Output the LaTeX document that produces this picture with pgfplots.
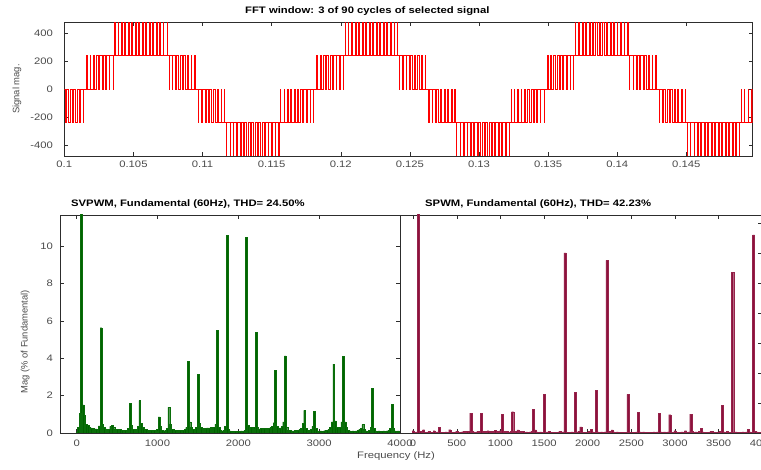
\documentclass[border=0pt]{standalone}
\usepackage{pgfplots}
\pgfplotsset{compat=1.18}
\usepackage{pgfplotstable}
\usepackage{fontspec}
\setmainfont{Liberation Sans}[FakeStretch=1.2]
\newfontfamily\rotfont{Liberation Sans}

\definecolor{tickgray}{RGB}{75,75,75}
\definecolor{axgray}{RGB}{45,45,45}
\definecolor{barG}{RGB}{0,100,0}
\definecolor{barGe}{RGB}{10,110,10}
\definecolor{barR}{RGB}{140,18,60}
\definecolor{barRe}{RGB}{150,35,75}

\pgfplotsset{
  mystyle/.style={
    scale only axis,
    anchor=south west,
    axis line style={axgray, line width=0.5pt},
    tick style={axgray, line width=0.5pt},
    tick align=inside,
    major tick length=4pt,
    xtick pos=both, ytick pos=both,
    ticklabel style={font=\fontsize{9.4}{11}\selectfont, text=tickgray},
  }
}

\pgfplotstableread[row sep=\\]{
f m\\
0 0.02\\ 20 0.3\\ 40 1.05\\ 60 100\\ 80 1.5\\ 100 0.95\\ 120 0.45\\ 140 0.4\\ 160 0.3\\ 180 0.28\\
200 0.25\\ 220 0.22\\ 240 0.22\\ 260 0.2\\ 280 0.38\\ 300 5.63\\ 320 0.48\\ 340 0.3\\ 360 0.22\\ 380 0.15\\
400 0.2\\ 420 0.35\\ 440 0.42\\ 460 0.3\\ 480 0.2\\ 500 0.18\\ 520 0.15\\ 540 0.18\\ 560 0.15\\ 580 0.12\\
600 0.15\\ 620 0.15\\ 640 0.25\\ 660 1.57\\ 680 0.4\\ 700 0.2\\ 720 0.18\\ 740 0.2\\ 760 0.35\\ 780 1.73\\
800 0.53\\ 820 0.3\\ 840 0.2\\ 860 0.18\\ 880 0.15\\ 900 0.15\\ 920 0.15\\ 940 0.12\\ 960 0.15\\ 980 0.12\\
1000 0.2\\ 1020 0.86\\ 1040 0.35\\ 1060 0.15\\ 1080 0.12\\ 1100 0.15\\ 1120 0.25\\ 1140 1.37\\ 1160 0.48\\ 1180 0.2\\
1200 0.18\\ 1220 0.15\\ 1240 0.15\\ 1260 0.12\\ 1280 0.15\\ 1300 0.12\\ 1320 0.15\\ 1340 0.2\\ 1360 0.3\\ 1380 3.83\\
1400 0.6\\ 1420 0.3\\ 1440 0.2\\ 1460 0.18\\ 1480 0.3\\ 1500 3.14\\ 1520 0.5\\ 1540 0.3\\ 1560 0.25\\ 1580 0.2\\
1600 0.25\\ 1620 0.28\\ 1640 0.25\\ 1660 0.3\\ 1680 0.25\\ 1700 0.3\\ 1720 0.48\\ 1740 5.49\\ 1760 0.3\\ 1780 0.15\\
1800 0.12\\ 1820 0.15\\ 1840 0.35\\ 1860 10.57\\ 1880 0.2\\ 1900 0.12\\ 1920 0.1\\ 1940 0.1\\ 1960 0.08\\ 1980 0.1\\
2000 0.1\\ 2020 0.1\\ 2040 0.12\\ 2060 0.1\\ 2080 0.15\\ 2100 10.46\\ 2120 0.4\\ 2140 0.25\\ 2160 0.3\\ 2180 0.22\\
2200 0.3\\ 2220 5.40\\ 2240 0.3\\ 2260 0.22\\ 2280 0.25\\ 2300 0.2\\ 2320 0.25\\ 2340 0.22\\ 2360 0.25\\ 2380 0.25\\
2400 0.3\\ 2420 0.35\\ 2440 0.55\\ 2460 3.35\\ 2480 0.35\\ 2500 0.25\\ 2520 0.28\\ 2540 0.35\\ 2560 0.6\\ 2580 4.12\\
2600 0.3\\ 2620 0.15\\ 2640 0.15\\ 2660 0.12\\ 2680 0.12\\ 2700 0.15\\ 2720 0.12\\ 2740 0.15\\ 2760 0.2\\ 2780 0.25\\
2800 0.5\\ 2820 1.21\\ 2840 0.25\\ 2860 0.15\\ 2880 0.12\\ 2900 0.2\\ 2920 0.35\\ 2940 1.16\\ 2960 0.25\\ 2980 0.12\\
3000 0.1\\ 3020 0.12\\ 3040 0.1\\ 3060 0.12\\ 3080 0.15\\ 3100 0.15\\ 3120 0.2\\ 3140 0.3\\ 3160 0.6\\ 3180 3.69\\
3200 0.65\\ 3220 0.3\\ 3240 0.25\\ 3260 0.3\\ 3280 0.6\\ 3300 4.10\\ 3320 0.6\\ 3340 0.3\\ 3360 0.15\\ 3380 0.12\\
3400 0.1\\ 3420 0.12\\ 3440 0.1\\ 3460 0.12\\ 3480 0.15\\ 3500 0.2\\ 3520 0.25\\ 3540 0.45\\ 3560 0.2\\ 3580 0.12\\
3600 0.1\\ 3620 0.15\\ 3640 0.3\\ 3660 2.39\\ 3680 0.25\\ 3700 0.12\\ 3720 0.1\\ 3740 0.12\\ 3760 0.1\\ 3780 0.1\\
3800 0.12\\ 3820 0.1\\ 3840 0.12\\ 3860 0.15\\ 3880 0.25\\ 3900 1.53\\ 3920 0.25\\ 3940 0.12\\ 3960 0.1\\ 3980 0.12\\
}\svpwm

\pgfplotstableread[row sep=\\]{
f m\\
0 0.15\\ 20 0.05\\ 40 0.08\\ 60 100\\ 80 0.1\\ 100 0.06\\ 120 0.22\\ 140 0.05\\ 160 0.06\\ 180 0.1\\
200 0.05\\ 220 0.06\\ 240 0.15\\ 260 0.06\\ 280 0.08\\ 300 0.38\\ 320 0.06\\ 340 0.05\\ 360 0.06\\ 380 0.08\\
400 0.06\\ 420 0.22\\ 440 0.06\\ 460 0.05\\ 480 0.06\\ 500 0.12\\ 520 0.05\\ 540 0.06\\ 560 0.08\\ 580 0.1\\
600 0.08\\ 620 0.1\\ 640 0.12\\ 660 1.33\\ 680 0.1\\ 700 0.08\\ 720 0.06\\ 740 0.1\\ 760 0.12\\ 780 1.33\\
800 0.1\\ 820 0.08\\ 840 0.12\\ 860 0.15\\ 880 0.1\\ 900 0.08\\ 920 0.12\\ 940 0.18\\ 960 0.12\\ 980 0.1\\
1000 0.15\\ 1020 1.25\\ 1040 0.1\\ 1060 0.08\\ 1080 0.1\\ 1100 0.06\\ 1120 0.12\\ 1140 1.42\\ 1160 0.1\\ 1180 0.12\\
1200 0.2\\ 1220 0.1\\ 1240 0.08\\ 1260 0.12\\ 1280 0.06\\ 1300 0.08\\ 1320 0.06\\ 1340 0.08\\ 1360 0.1\\ 1380 1.58\\
1400 0.2\\ 1420 0.08\\ 1440 0.06\\ 1460 0.08\\ 1480 0.06\\ 1500 2.56\\ 1520 0.06\\ 1540 0.08\\ 1560 0.1\\ 1580 0.06\\
1600 0.05\\ 1620 0.06\\ 1640 0.05\\ 1660 0.06\\ 1680 0.1\\ 1700 0.06\\ 1720 0.08\\ 1740 12.0\\ 1760 0.06\\ 1780 0.05\\
1800 0.06\\ 1820 0.08\\ 1840 0.06\\ 1860 2.7\\ 1880 0.08\\ 1900 0.1\\ 1920 0.4\\ 1940 0.06\\ 1960 0.05\\ 1980 0.06\\
2000 0.05\\ 2020 0.1\\ 2040 0.25\\ 2060 0.08\\ 2080 0.06\\ 2100 2.83\\ 2120 0.08\\ 2140 0.06\\ 2160 0.08\\ 2180 0.06\\
2200 0.08\\ 2220 11.5\\ 2240 0.06\\ 2260 0.1\\ 2280 0.2\\ 2300 0.08\\ 2320 0.06\\ 2340 0.08\\ 2360 0.06\\ 2380 0.05\\
2400 0.06\\ 2420 0.05\\ 2440 0.06\\ 2460 2.58\\ 2480 0.06\\ 2500 0.05\\ 2520 0.06\\ 2540 0.05\\ 2560 0.08\\ 2580 1.38\\
2600 0.08\\ 2620 0.06\\ 2640 0.08\\ 2660 0.06\\ 2680 0.05\\ 2700 0.06\\ 2720 0.05\\ 2740 0.06\\ 2760 0.08\\ 2780 0.06\\
2800 0.08\\ 2820 1.29\\ 2840 0.08\\ 2860 0.06\\ 2880 0.08\\ 2900 0.06\\ 2920 0.08\\ 2940 1.22\\ 2960 0.06\\ 2980 0.05\\
3000 0.15\\ 3020 0.06\\ 3040 0.05\\ 3060 0.06\\ 3080 0.08\\ 3100 0.06\\ 3120 0.15\\ 3140 0.06\\ 3160 0.08\\ 3180 1.25\\
3200 0.1\\ 3220 0.06\\ 3240 0.08\\ 3260 0.06\\ 3280 0.1\\ 3300 0.3\\ 3320 0.08\\ 3340 0.06\\ 3360 0.05\\ 3380 0.06\\
3400 0.08\\ 3420 0.12\\ 3440 0.06\\ 3460 0.05\\ 3480 0.06\\ 3500 0.08\\ 3520 0.1\\ 3540 1.83\\ 3560 0.08\\ 3580 0.06\\
3600 0.1\\ 3620 0.06\\ 3640 0.05\\ 3660 10.7\\ 3680 0.06\\ 3700 0.08\\ 3720 0.06\\ 3740 0.05\\ 3760 0.06\\ 3780 0.08\\
3800 0.06\\ 3820 0.08\\ 3840 0.25\\ 3860 0.08\\ 3880 0.06\\ 3900 13.2\\ 3920 0.1\\ 3940 0.08\\ 3960 0.06\\ 3980 0.05\\
}\spwm

\begin{document}
\begin{tikzpicture}
\useasboundingbox (0,0) rectangle (761pt,470pt);

% ---------------- top: time signal ----------------
\begin{axis}[mystyle,
  at={(64.3pt,314pt)}, width=688.4pt, height=133.5pt,
  xmin=0.1, xmax=0.1498, ymin=-480, ymax=480,
  xtick={0.1,0.105,0.11,0.115,0.12,0.125,0.13,0.135,0.14,0.145},
  xticklabels={0.1,0.105,0.11,0.115,0.12,0.125,0.13,0.135,0.14,0.145},
  ytick={-400,-200,0,200,400},
  yticklabels={-400,-200,0,200,400},
  xticklabel style={yshift=-1.8pt},
  yticklabel style={xshift=-7.9pt},
]
\addplot[red, line width=0.95pt, const plot] coordinates {
(0.1,0)
(0.100056,-240)(0.100192,0)(0.100308,-240)(0.100444,0)(0.100592,-240)(0.100666,0)(0.100844,-240)(0.100918,0)
(0.101130,-240)(0.101138,0)(0.101382,-240)(0.101390,0)
(0.101611,240)(0.101667,0)(0.101863,240)(0.101919,0)(0.102084,240)(0.102204,0)(0.102336,240)(0.102456,0)
(0.102559,240)(0.102739,0)(0.102811,240)(0.102991,0)(0.103038,240)(0.103270,0)(0.103290,240)(0.103522,0)(0.103533,240)
(0.103647,480)(0.103671,240)(0.103899,480)(0.103923,240)(0.104135,480)(0.104193,240)(0.104387,480)(0.104445,240)
(0.104628,480)(0.104710,240)(0.104880,480)(0.104962,240)(0.105128,480)(0.105220,240)(0.105380,480)(0.105472,240)
(0.105633,480)(0.105725,240)(0.105885,480)(0.105977,240)(0.106145,480)(0.106223,240)(0.106397,480)(0.106475,240)
(0.106663,480)(0.106715,240)(0.106915,480)(0.106967,240)(0.107187,480)(0.107201,240)(0.107439,480)(0.107453,240)
(0.107573,0)
(0.107589,240)(0.107809,0)(0.107841,240)(0.108061,0)(0.108121,240)(0.108287,0)(0.108373,240)(0.108539,0)
(0.108656,240)(0.108762,0)(0.108908,240)(0.109014,0)(0.109193,240)(0.109235,0)(0.109445,240)(0.109487,0)
(0.109707,-240)(0.109731,0)(0.109959,-240)(0.109983,0)(0.110180,-240)(0.110269,0)(0.110432,-240)(0.110521,0)
(0.110654,-240)(0.110804,0)(0.110906,-240)(0.111056,0)(0.111131,-240)(0.111337,0)(0.111383,-240)(0.111589,0)(0.111613,-240)
(0.111738,-480)(0.111740,-240)(0.111990,-480)(0.111992,-240)(0.112223,-480)(0.112265,-240)(0.112475,-480)(0.112517,-240)
(0.112713,-480)(0.112785,-240)(0.112965,-480)(0.113037,-240)(0.113210,-480)(0.113298,-240)(0.113462,-480)(0.113550,-240)
(0.113712,-480)(0.113806,-240)(0.113964,-480)(0.114058,-240)(0.114221,-480)(0.114307,-240)(0.114473,-480)(0.114559,-240)
(0.114736,-480)(0.114802,-240)(0.114988,-480)(0.115054,-240)(0.115257,-480)(0.115291,-240)(0.115509,-480)(0.115543,-240)
(0.115653,0)
(0.115656,-240)(0.115901,0)(0.115908,-240)(0.116154,0)(0.116187,-240)(0.116381,0)(0.116439,-240)(0.116633,0)
(0.116721,-240)(0.116857,0)(0.116973,-240)(0.117109,0)(0.117257,-240)(0.117331,0)(0.117509,-240)(0.117583,0)
(0.117795,-240)(0.117803,0)(0.118047,-240)(0.118055,0)
(0.118276,240)(0.118332,0)(0.118528,240)(0.118584,0)(0.118749,240)(0.118869,0)(0.119001,240)(0.119121,0)
(0.119224,240)(0.119404,0)(0.119476,240)(0.119656,0)(0.119703,240)(0.119935,0)(0.119955,240)(0.120187,0)(0.120198,240)
(0.120312,480)(0.120336,240)(0.120564,480)(0.120588,240)(0.120800,480)(0.120858,240)(0.121052,480)(0.121110,240)
(0.121293,480)(0.121375,240)(0.121545,480)(0.121627,240)(0.121793,480)(0.121885,240)(0.122045,480)(0.122137,240)
(0.122298,480)(0.122390,240)(0.122550,480)(0.122642,240)(0.122810,480)(0.122888,240)(0.123062,480)(0.123140,240)
(0.123328,480)(0.123380,240)(0.123580,480)(0.123632,240)(0.123852,480)(0.123866,240)(0.124104,480)(0.124118,240)
(0.124238,0)
(0.124254,240)(0.124474,0)(0.124506,240)(0.124726,0)(0.124786,240)(0.124952,0)(0.125038,240)(0.125204,0)
(0.125321,240)(0.125427,0)(0.125573,240)(0.125679,0)(0.125858,240)(0.125900,0)(0.126110,240)(0.126152,0)
(0.126372,-240)(0.126396,0)(0.126624,-240)(0.126648,0)(0.126845,-240)(0.126934,0)(0.127097,-240)(0.127186,0)
(0.127319,-240)(0.127469,0)(0.127571,-240)(0.127721,0)(0.127796,-240)(0.128002,0)(0.128048,-240)(0.128254,0)(0.128278,-240)
(0.128403,-480)(0.128405,-240)(0.128655,-480)(0.128657,-240)(0.128888,-480)(0.128930,-240)(0.129140,-480)(0.129182,-240)
(0.129378,-480)(0.129450,-240)(0.129630,-480)(0.129702,-240)(0.129875,-480)(0.129963,-240)(0.130127,-480)(0.130215,-240)
(0.130377,-480)(0.130471,-240)(0.130629,-480)(0.130723,-240)(0.130886,-480)(0.130972,-240)(0.131138,-480)(0.131224,-240)
(0.131401,-480)(0.131467,-240)(0.131653,-480)(0.131719,-240)(0.131922,-480)(0.131956,-240)(0.132174,-480)(0.132208,-240)
(0.132318,0)
(0.132321,-240)(0.132566,0)(0.132573,-240)(0.132819,0)(0.132852,-240)(0.133046,0)(0.133104,-240)(0.133298,0)
(0.133386,-240)(0.133522,0)(0.133638,-240)(0.133774,0)(0.133922,-240)(0.133996,0)(0.134174,-240)(0.134248,0)
(0.134460,-240)(0.134468,0)(0.134712,-240)(0.134720,0)
(0.134941,240)(0.134997,0)(0.135193,240)(0.135249,0)(0.135414,240)(0.135534,0)(0.135666,240)(0.135786,0)
(0.135889,240)(0.136069,0)(0.136141,240)(0.136321,0)(0.136368,240)(0.136600,0)(0.136620,240)(0.136852,0)(0.136863,240)
(0.136977,480)(0.137001,240)(0.137229,480)(0.137253,240)(0.137465,480)(0.137523,240)(0.137717,480)(0.137775,240)
(0.137958,480)(0.138040,240)(0.138210,480)(0.138292,240)(0.138458,480)(0.138550,240)(0.138710,480)(0.138802,240)
(0.138963,480)(0.139055,240)(0.139215,480)(0.139307,240)(0.139475,480)(0.139553,240)(0.139727,480)(0.139805,240)
(0.139993,480)(0.140045,240)(0.140245,480)(0.140297,240)(0.140517,480)(0.140531,240)(0.140769,480)(0.140783,240)
(0.140903,0)
(0.140919,240)(0.141139,0)(0.141171,240)(0.141391,0)(0.141451,240)(0.141617,0)(0.141703,240)(0.141869,0)
(0.141986,240)(0.142092,0)(0.142238,240)(0.142344,0)(0.142523,240)(0.142565,0)(0.142775,240)(0.142817,0)
(0.143037,-240)(0.143061,0)(0.143289,-240)(0.143313,0)(0.143510,-240)(0.143599,0)(0.143762,-240)(0.143851,0)
(0.143984,-240)(0.144134,0)(0.144236,-240)(0.144386,0)(0.144461,-240)(0.144667,0)(0.144713,-240)(0.144919,0)(0.144943,-240)
(0.145068,-480)(0.145070,-240)(0.145320,-480)(0.145322,-240)(0.145553,-480)(0.145595,-240)(0.145805,-480)(0.145847,-240)
(0.146043,-480)(0.146115,-240)(0.146295,-480)(0.146367,-240)(0.146540,-480)(0.146628,-240)(0.146792,-480)(0.146880,-240)
(0.147042,-480)(0.147136,-240)(0.147294,-480)(0.147388,-240)(0.147551,-480)(0.147637,-240)(0.147803,-480)(0.147889,-240)
(0.148066,-480)(0.148132,-240)(0.148318,-480)(0.148384,-240)(0.148587,-480)(0.148621,-240)(0.148839,-480)(0.148873,-240)
(0.148983,0)
(0.148986,-240)(0.149231,0)(0.149238,-240)(0.149484,0)(0.149517,-240)(0.149711,0)(0.149769,-240)(0.149963,0)(0.15,0)
};
\end{axis}

% ---------------- bottom left: SVPWM ----------------
\begin{axis}[mystyle,
  at={(60.5pt,37pt)}, width=339.5pt, height=218pt,
  xmin=-200, xmax=4000, ymin=0, ymax=11.66,
  xtick={0,1000,2000,3000,4000},
  xticklabels={0,1000,2000,3000,4000},
  ytick={0,2,4,6,8,10},
  yticklabels={0,2,4,6,8,10},
  xticklabel style={yshift=-3.6pt},
  yticklabel style={xshift=-4pt},
]
\addplot[ybar, bar width=22, fill=barG, draw=barGe, line width=0.3pt] table[x=f,y=m] {\svpwm};
\end{axis}

% ---------------- bottom right: SPWM ----------------
\begin{axis}[mystyle,
  at={(400pt,37pt)}, width=362.3pt, height=218pt,
  xmin=-150, xmax=4000, ymin=0, ymax=14.53,
  xtick={0,500,1000,1500,2000,2500,3000,3500,4000},
  xticklabels={0,500,1000,1500,2000,2500,3000,3500,4000},
  ytick={0,2,4,6,8,10,12,14},
  ytick pos=right, yticklabels={},
  xticklabel style={yshift=-3.6pt},
]
\addplot[ybar, bar width=24, fill=barR, draw=barRe, line width=0.3pt] table[x=f,y=m] {\spwm};
\end{axis}

% ---------------- titles and labels ----------------
\node[anchor=base west, inner sep=0pt, font=\fontsize{9.4}{11}\selectfont\bfseries] at (245pt,456pt)
  {FFT window: 3 of 90 cycles of selected signal};
\node[anchor=base west, inner sep=0pt, font=\fontsize{9.4}{11}\selectfont\bfseries] at (71pt,263.3pt)
  {SVPWM, Fundamental (60Hz), THD= 24.50\%};
\node[anchor=base west, inner sep=0pt, font=\fontsize{9.4}{11}\selectfont\bfseries] at (425pt,263.3pt)
  {SPWM, Fundamental (60Hz), THD= 42.23\%};
\node[anchor=base, inner sep=0pt, font=\fontsize{9.4}{11}\selectfont, text=tickgray] at (396pt,11pt)
  {Frequency (Hz)};
\node[rotate=90, anchor=center, inner sep=0pt, font=\rotfont\fontsize{9.4}{11}\selectfont, text=tickgray] at (17pt,381pt)
  {Signal mag.};
\node[rotate=90, anchor=center, inner sep=0pt, font=\rotfont\fontsize{9.4}{11}\selectfont, text=tickgray] at (25.3pt,128.3pt)
  {Mag (\% of Fundamental)};
\end{tikzpicture}
\end{document}
